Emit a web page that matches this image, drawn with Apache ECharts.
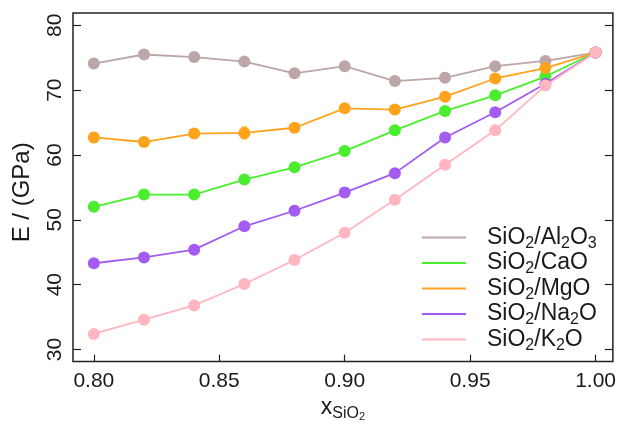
<!DOCTYPE html>
<html>
<head>
<meta charset="utf-8">
<script src="https://cdn.jsdelivr.net/npm/echarts@6/dist/echarts.min.js"></script>
<style>html,body{margin:0;padding:0;background:#fff}#c{width:619px;height:427px}</style>
</head>
<body>
<div id="c"></div>
<script>
const xValues = [0.80, 0.82, 0.84, 0.86, 0.88, 0.90, 0.92, 0.94, 0.96, 0.98, 1.00];
const eAl2O3 = [74.1, 75.5, 75.1, 74.4, 72.6, 73.7, 71.4, 71.9, 73.7, 74.5, 75.8];
const eCaO   = [52.0, 53.9, 53.9, 56.2, 58.1, 60.6, 63.8, 66.8, 69.2, 72.1, 75.8];
const eMgO   = [62.7, 62.0, 63.3, 63.4, 64.2, 67.2, 67.0, 69.0, 71.8, 73.4, 75.8];
const eNa2O  = [43.3, 44.2, 45.4, 49.0, 51.4, 54.2, 57.2, 62.7, 66.6, 71.0, 75.8];
const eK2O   = [32.4, 34.6, 36.8, 40.1, 43.8, 48.0, 53.1, 58.5, 63.8, 70.7, 75.8];
const errAl2O3 = [0.4, 0.4, 0.4, 0.4, 0.4, 0.7, 0.4, 0.7, 0.4, 0.4, 0.3];
const errCaO   = [0.4, 0.7, 0.4, 0.4, 0.4, 0.4, 0.4, 0.4, 0.4, 0.4, 0.3];
const errMgO   = [0.7, 0.4, 0.4, 0.9, 0.6, 0.4, 0.4, 0.5, 0.4, 0.4, 0.3];
const errNa2O  = [0.4, 0.4, 0.4, 0.4, 0.7, 0.7, 0.4, 0.4, 0.4, 0.4, 0.3];
const errK2O   = [0.3, 0.3, 0.3, 0.3, 0.3, 0.3, 0.3, 0.3, 0.6, 0.3, 0.3];
const xTicks = [0.80, 0.85, 0.90, 0.95, 1.00];
const yTicks = [30, 40, 50, 60, 70, 80];
const seriesNames = ['SiO2/Al2O3', 'SiO2/CaO', 'SiO2/MgO', 'SiO2/Na2O', 'SiO2/K2O'];
const legendRich = {
  'SiO2/Al2O3': '{n|SiO}{s|2}{n|/Al}{s|2}{n|O}{s|3}',
  'SiO2/CaO': '{n|SiO}{s|2}{n|/CaO}',
  'SiO2/MgO': '{n|SiO}{s|2}{n|/MgO}',
  'SiO2/Na2O': '{n|SiO}{s|2}{n|/Na}{s|2}{n|O}',
  'SiO2/K2O': '{n|SiO}{s|2}{n|/K}{s|2}{n|O}'
};
const seriesValues = [eAl2O3, eCaO, eMgO, eNa2O, eK2O];
const seriesErrors = [errAl2O3, errCaO, errMgO, errNa2O, errK2O];
const colors = ['#bca6a6', '#4bee2e', '#ffa21c', '#a45cf0', '#ffb6c1'];

const X_MIN = 0.7917, X_MAX = 1.0069, Y_MIN = 28.13, Y_MAX = 81.9;
const FONT = 'Liberation Sans';
const TXT = '#1a1a1a';
const chart = echarts.init(document.getElementById('c'), null, {renderer: 'canvas'});

const series = [];
seriesNames.forEach((name, i) => {
  series.push({
    type: 'custom',
    name: name + '_err',
    silent: true,
    z: 2,
    data: xValues.map((x, j) => [x, seriesValues[i][j], seriesErrors[i][j]]),
    renderItem: function (params, api) {
      const x = api.value(0), y = api.value(1), e = api.value(2);
      const p1 = api.coord([x, y - e]);
      const p2 = api.coord([x, y + e]);
      const w = 3;
      const style = {stroke: colors[i], lineWidth: 1.2};
      return {type: 'group', children: [
        {type: 'line', shape: {x1: p1[0], y1: p1[1], x2: p2[0], y2: p2[1]}, style},
        {type: 'line', shape: {x1: p1[0] - w, y1: p1[1], x2: p1[0] + w, y2: p1[1]}, style},
        {type: 'line', shape: {x1: p2[0] - w, y1: p2[1], x2: p2[0] + w, y2: p2[1]}, style}
      ]};
    }
  });
});
seriesNames.forEach((name, i) => {
  series.push({
    type: 'line',
    name: name,
    data: xValues.map((x, j) => [x, seriesValues[i][j]]),
    symbol: 'circle',
    symbolSize: 12,
    showSymbol: true,
    z: 3 + i,
    lineStyle: {color: colors[i], width: 1.8},
    itemStyle: {color: colors[i]},
    emphasis: {disabled: true}
  });
});
// rotated y tick labels, placed through the axis scale
series.push({
  type: 'custom',
  name: 'yLabels',
  silent: true,
  clip: false,
  z: 10,
  data: yTicks.map(v => [X_MIN, v]),
  renderItem: function (params, api) {
    const c = api.coord([api.value(0), api.value(1)]);
    return {
      type: 'text',
      x: c[0] - 18,
      y: c[1],
      rotation: Math.PI / 2,
      style: {text: String(api.value(1)), fontSize: 21, fontFamily: FONT, fill: TXT, align: 'center', verticalAlign: 'middle'}
    };
  }
});

chart.setOption({
  animation: false,
  backgroundColor: '#fff',
  grid: {left: 73, right: 5, top: 13, bottom: 53, show: true, borderColor: '#222', borderWidth: 1.5, backgroundColor: 'transparent'},
  legend: {
    orient: 'vertical',
    left: 417,
    top: 221,
    data: seriesNames,
    icon: 'rect',
    itemWidth: 44,
    itemHeight: 2,
    itemGap: 0,
    formatter: name => '{p|}' + legendRich[name],
    textStyle: {
      fontFamily: FONT,
      color: TXT,
      rich: {
        p: {width: 16},
        n: {fontSize: 23, fontFamily: FONT, color: TXT, lineHeight: 23},
        s: {fontSize: 16, fontFamily: FONT, color: TXT, verticalAlign: 'bottom', lineHeight: 28}
      }
    }
  },
  xAxis: [{
    type: 'value',
    min: X_MIN,
    max: X_MAX,
    splitLine: {show: false},
    axisLine: {show: false},
    axisTick: {inside: true, length: 7, customValues: xTicks, lineStyle: {color: '#222', width: 1.2}},
    axisLabel: {customValues: xTicks, formatter: v => v.toFixed(2), fontSize: 21, fontFamily: FONT, color: TXT, margin: 9},
    name: '{x|x}{s|SiO}{ss|2}',
    nameLocation: 'middle',
    nameGap: 32,
    nameTextStyle: {
      fontFamily: FONT,
      rich: {
        x: {fontSize: 23, fontFamily: FONT, color: TXT, lineHeight: 23},
        s: {fontSize: 16, fontFamily: FONT, color: TXT, verticalAlign: 'bottom', lineHeight: 28},
        ss: {fontSize: 11, fontFamily: FONT, color: TXT, verticalAlign: 'bottom', lineHeight: 28}
      }
    }
  }],
  yAxis: [{
    type: 'value',
    min: Y_MIN,
    max: Y_MAX,
    splitLine: {show: false},
    axisLine: {show: false},
    axisTick: {inside: true, length: 8, customValues: yTicks, lineStyle: {color: '#222', width: 1.2}},
    axisLabel: {show: false},
    name: 'E / (GPa)',
    nameLocation: 'middle',
    nameGap: 39,
    nameTextStyle: {fontSize: 24, fontFamily: FONT, color: TXT, padding: [0, 10, 0, 0]}
  }, {
    type: 'value',
    position: 'right',
    min: Y_MIN,
    max: Y_MAX,
    splitLine: {show: false},
    axisLine: {show: false},
    axisTick: {inside: true, length: 8, customValues: yTicks, lineStyle: {color: '#222', width: 1.2}},
    axisLabel: {show: false}
  }],
  series: series
});
</script>
</body>
</html>
